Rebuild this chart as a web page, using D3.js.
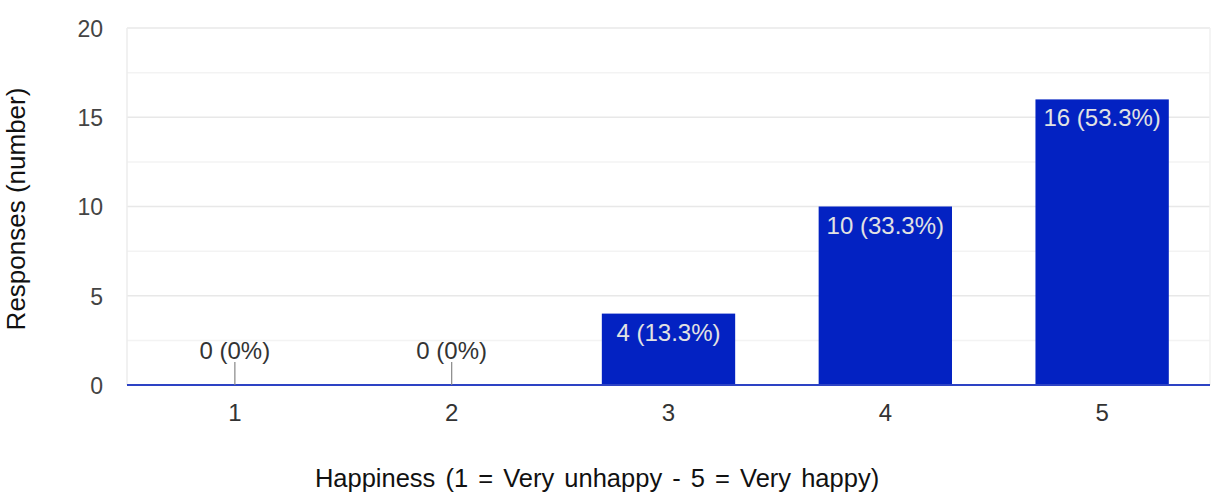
<!DOCTYPE html>
<html><head><meta charset="utf-8">
<script src="https://cdn.jsdelivr.net/npm/d3@7"></script>
<style>body{margin:0;background:#fff}svg{display:block}text{font-family:"Liberation Sans",Arial,sans-serif}</style>
</head><body>
<svg id="c" width="1215" height="501"></svg>
<script>
const categories = ["1","2","3","4","5"];
const counts = [0,0,4,10,16];
const percentLabels = ["0%","0%","13.3%","33.3%","53.3%"];
const yTicks = [0,5,10,15,20];
const yMinor = [2.5,7.5,12.5,17.5];
const xTitle = "Happiness (1 = Very unhappy - 5 = Very happy)";
const yTitle = "Responses (number)";

const svg = d3.select("#c");
const L = 127, R = 1210, T = 28, B = 385;
const x = d3.scaleBand().domain(categories).range([L, R]).paddingInner(0.385).paddingOuter(0.19);
const y = d3.scaleLinear().domain([0,20]).range([B, T]);

// minor gridlines
svg.append("g").selectAll("line").data(yMinor).join("line")
  .attr("x1", L).attr("x2", R).attr("y1", d=>y(d)).attr("y2", d=>y(d))
  .attr("stroke", "#f3f3f3").attr("stroke-width", 1.5);
// major gridlines
svg.append("g").selectAll("line").data(yTicks.filter(d=>d>0)).join("line")
  .attr("x1", L).attr("x2", R).attr("y1", d=>y(d)).attr("y2", d=>y(d))
  .attr("stroke", "#e8e8e8").attr("stroke-width", 1.5);
// left and right borders
svg.append("line").attr("x1", L).attr("x2", L).attr("y1", T).attr("y2", B).attr("stroke", "#ececec").attr("stroke-width", 1.5);
svg.append("line").attr("x1", R).attr("x2", R).attr("y1", T).attr("y2", B).attr("stroke", "#f0f0f0").attr("stroke-width", 1.5);

// y axis
const yAxis = d3.axisLeft(y).tickValues(yTicks).tickSize(0).tickPadding(0);
const gy = svg.append("g").attr("transform", `translate(${L-24},0)`).call(yAxis);
gy.select(".domain").remove();
gy.selectAll("text").attr("font-size", 23).attr("fill", "#444").attr("dy", "0.36em");

// x axis
const xAxis = d3.axisBottom(x).tickSize(0).tickPadding(0);
const gx = svg.append("g").attr("transform", `translate(0,${B})`).call(xAxis);
gx.select(".domain").remove();
gx.selectAll("text").attr("font-size", 24).attr("fill", "#333").attr("dy", "0").attr("y", 36);

// bars
const data = categories.map((c,i)=>({c, v:counts[i], p:percentLabels[i]}));
svg.append("g").selectAll("rect").data(data.filter(d=>d.v>0)).join("rect")
  .attr("x", d=>x(d.c)).attr("width", x.bandwidth())
  .attr("y", d=>y(d.v)).attr("height", d=>y(0)-y(d.v))
  .attr("fill", "#0322c2");

// baseline
svg.append("line").attr("x1", L).attr("x2", R).attr("y1", y(0)).attr("y2", y(0))
  .attr("stroke", "#2d43c4").attr("stroke-width", 2);

// labels
const lab = svg.append("g");
data.forEach(d=>{
  const cx = x(d.c) + x.bandwidth()/2;
  const txt = `${d.v} (${d.p})`;
  if (d.v > 0) {
    lab.append("text").attr("x", cx).attr("y", y(d.v)+27).attr("text-anchor","middle")
      .attr("font-size", 24).attr("fill", "#e2e2e2").text(txt);
  } else {
    lab.append("line").attr("x1", cx).attr("x2", cx).attr("y1", y(0)-23).attr("y2", y(0))
      .attr("stroke", "#888").attr("stroke-width", 1.2);
    lab.append("text").attr("x", cx).attr("y", y(0)-26).attr("text-anchor","middle")
      .attr("font-size", 24).attr("fill", "#333").text(txt);
  }
});

// titles
svg.append("text").attr("x", 597).attr("y", 487).attr("text-anchor","middle")
  .attr("font-size", 25.5).attr("word-spacing", 3).attr("fill", "#111").text(xTitle);
svg.append("text").attr("transform", "translate(25,209) rotate(-90)").attr("text-anchor","middle")
  .attr("font-size", 26).attr("fill", "#111").text(yTitle);
</script>
</body></html>
